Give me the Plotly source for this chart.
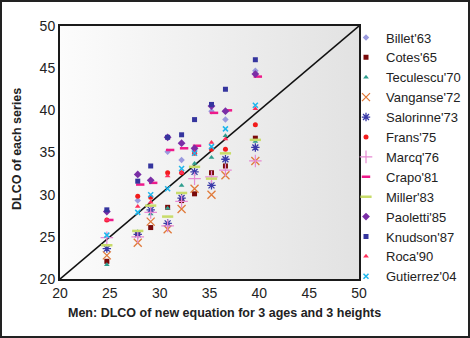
import plotly.graph_objects as go

# ---- data ----
x_new = [24.7, 27.8, 29.1, 30.8, 32.2, 33.5, 35.2, 36.6, 39.6]

series_names = ["Billet'63", "Cotes'65", "Teculescu'70", "Vanganse'72", "Salorinne'73",
                "Frans'75", "Marcq'76", "Crapo'81", "Miller'83", "Paoletti'85",
                "Knudson'87", "Roca'90", "Gutierrez'04"]

billet     = [28.0, 29.3, 28.0, 35.1, 34.1, 35.3, 39.9, 38.9, 44.7]
cotes      = [22.1, 25.4, 26.1, 28.5, 29.3, 30.1, 32.6, 33.4, 36.7]
teculescu  = [21.7, 25.6, 27.7, 28.4, 31.1, 33.7, 34.4, 37.0, 36.3]
vanganse   = [22.8, 24.3, 26.8, 25.9, 28.3, 30.7, 30.0, 32.3, 34.0]
salorinne  = [23.6, 25.3, 28.2, 26.6, 29.6, 32.7, 31.1, 34.2, 35.6]
frans      = [27.0, 29.8, 29.7, 32.6, 32.6, 34.9, 35.4, 35.4, 38.3]
marcq      = [24.9, 25.0, 27.9, 26.3, 29.2, 31.9, 32.1, 32.9, 34.0]
crapo      = [27.0, 31.2, 31.4, 35.3, 35.5, 35.8, 39.7, 40.0, 44.0]
miller     = [24.0, 25.7, 28.7, 27.4, 30.2, 33.3, 31.9, 34.9, 36.5]
paoletti   = [28.0, 32.4, 31.7, 36.8, 36.1, 35.5, 40.5, 39.9, 44.3]
knudson    = [28.2, 31.6, 33.4, 36.8, 37.1, 38.9, 40.7, 42.5, 46.0]
roca       = [27.0, 28.6, 29.1, 32.2, 32.6, 35.0, 36.2, 36.6, 40.2]
gutierrez  = [25.2, 27.9, 30.0, 30.7, 33.1, 34.9, 35.7, 37.8, 40.6]

crapo_dx = 0.25  # the dashes sit slightly right of the column

x_ticks = [20, 25, 30, 35, 40, 45, 50]
y_ticks = [20, 25, 30, 35, 40, 45, 50]
ax_min, ax_max = 20, 50

styles = [
    dict(symbol="diamond", color="#9a9ade", size=5),
    dict(symbol="square", color="#7a0a0a", size=5),
    dict(symbol="triangle-up", color="#2e9e8e", size=5),
    dict(symbol="x-thin-open", color="#e07a3a", size=8, lw=1.3),
    dict(symbol="asterisk-open", color="#3a3aa8", size=7, lw=1.3),
    dict(symbol="circle", color="#f21c1c", size=5),
    dict(symbol="cross-thin-open", color="#e68ad2", size=9, lw=1.2),
    dict(symbol="line-ew-open", color="#ee1a8a", size=6, lw=2.5),
    dict(symbol="line-ew-open", color="#c8dc6a", size=8, lw=2.5),
    dict(symbol="diamond", color="#7a2ea6", size=6),
    dict(symbol="square", color="#35359e", size=5),
    dict(symbol="triangle-up", color="#ff2f5a", size=5),
    dict(symbol="x-thin-open", color="#1eb6ec", size=5, lw=1.5),
]
values = [billet, cotes, teculescu, vanganse, salorinne, frans, marcq, crapo,
          miller, paoletti, knudson, roca, gutierrez]

fig = go.Figure()

# gradient plot background
fig.add_trace(go.Scatter(
    x=[ax_min, ax_max, ax_max, ax_min, ax_min], y=[ax_min, ax_min, ax_max, ax_max, ax_min],
    mode="lines", fill="toself", line=dict(width=0),
    fillgradient=dict(type="horizontal", colorscale=[[0, "#fcfcfc"], [1, "#e2e2e2"]]),
    showlegend=False, hoverinfo="skip"))

# identity line
fig.add_trace(go.Scatter(x=[ax_min, ax_max], y=[ax_min, ax_max], mode="lines",
                         line=dict(color="#111", width=1.6), showlegend=False, hoverinfo="skip"))

for name, vals, st in zip(series_names, values, styles):
    xs = [v + crapo_dx for v in x_new] if name == "Crapo'81" else x_new
    m = dict(symbol=st["symbol"], color=st["color"], size=st["size"])
    if "lw" in st:
        m["line"] = dict(color=st["color"], width=st["lw"])
    else:
        m["line"] = dict(width=0)
    fig.add_trace(go.Scatter(x=xs, y=vals, mode="markers", name=name, marker=m))

L, R, T, B = 60, 111, 26, 59
W, H = 470, 338
pw, ph = W - L - R, H - T - B

axis_common = dict(range=[ax_min, ax_max], showgrid=True, gridcolor="#1a1a1a", gridwidth=2,
                   showline=True, linecolor="#1a1a1a", linewidth=2, mirror=True,
                   zeroline=False, ticks="", tickfont=dict(family="Liberation Sans, Arial", size=14, color="#222"))

fig.update_layout(
    width=W, height=H,
    margin=dict(l=L, r=R, t=T, b=B, pad=0, autoexpand=False),
    paper_bgcolor="white", plot_bgcolor="#eeeeee",
    font=dict(family="Liberation Sans, Arial", color="#222"),
    xaxis=dict(tickvals=x_ticks, **axis_common),
    yaxis=dict(tickvals=y_ticks, **axis_common),
    legend=dict(xref="container", yref="container", x=346 / W, y=1 - 22.5 / H,
                xanchor="left", yanchor="top", maxheight=312,
                font=dict(size=13, color="#222"), bgcolor="rgba(0,0,0,0)",
                itemsizing="trace", tracegroupgap=0),
    annotations=[
        dict(text="<b>Men: DLCO of new equation for 3 ages and 3 heights</b>",
             xref="paper", yref="paper", x=(224 - L) / pw, y=-(313 - (T + ph)) / ph,
             xanchor="center", yanchor="middle", showarrow=False,
             font=dict(size=12.5, color="#222")),
        dict(text="<b>DLCO of each series</b>", textangle=-90,
             xref="paper", yref="paper", x=-(L - 17) / pw, y=1 - (149 - T) / ph,
             xanchor="center", yanchor="middle", showarrow=False,
             font=dict(size=12.5, color="#222")),
    ],
    shapes=[dict(type="rect", xref="paper", yref="paper",
                 x0=-(L - 1) / pw, x1=1 + (R - 1) / pw, y0=-(B - 1) / ph, y1=1 + (T - 1) / ph,
                 line=dict(color="#222", width=2), layer="above")],
)

fig.write_html("out.html")
